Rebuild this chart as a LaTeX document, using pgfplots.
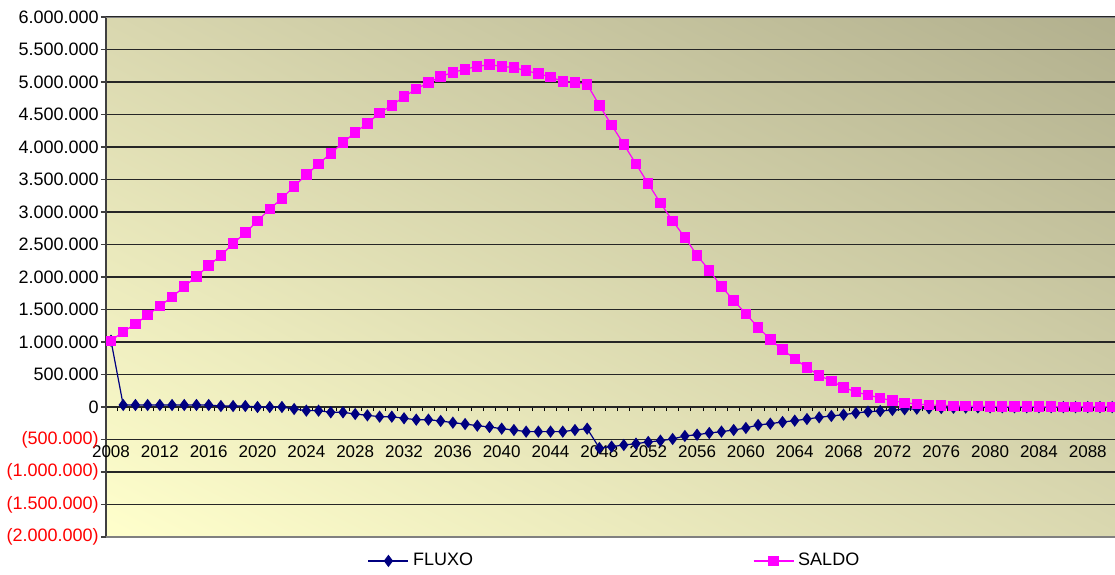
\documentclass[border=0pt]{standalone}
\usepackage{pgfplots}
\pgfplotsset{compat=1.18}
\usepackage{pgfplotstable}
\usetikzlibrary{shadings}
\usepackage{fontspec}
\setmainfont{Liberation Sans}
\definecolor{fluxo}{HTML}{000080}
\definecolor{saldo}{HTML}{FF00FF}
\definecolor{bgll}{HTML}{FFFFCC}
\definecolor{bgul}{HTML}{D9D7AF}
\definecolor{bgur}{HTML}{B2B08E}
\definecolor{bglr}{HTML}{DAD8B0}

\pgfplotstableread{
year fluxo saldo
2008 1020000 1020000
2009 31000 1158000
2010 31000 1277000
2011 31000 1415000
2012 31000 1554000
2013 31000 1692000
2014 31000 1851000
2015 31000 2010000
2016 31000 2174000
2017 15000 2333000
2018 15000 2513000
2019 15000 2682000
2020 0 2862000
2021 0 3046000
2022 0 3210000
2023 -31000 3395000
2024 -56000 3574000
2025 -56000 3738000
2026 -82000 3903000
2027 -82000 4067000
2028 -108000 4226000
2029 -128000 4364000
2030 -149000 4523000
2031 -149000 4641000
2032 -174000 4774000
2033 -195000 4892000
2034 -195000 4990000
2035 -215000 5082000
2036 -241000 5149000
2037 -262000 5195000
2038 -287000 5241000
2039 -308000 5267000
2040 -333000 5241000
2041 -354000 5221000
2042 -379000 5174000
2043 -379000 5128000
2044 -379000 5077000
2045 -379000 5010000
2046 -354000 4990000
2047 -333000 4964000
2048 -631000 4641000
2049 -610000 4338000
2050 -585000 4041000
2051 -564000 3738000
2052 -538000 3436000
2053 -518000 3138000
2054 -492000 2862000
2055 -446000 2610000
2056 -426000 2333000
2057 -400000 2103000
2058 -379000 1851000
2059 -354000 1641000
2060 -323000 1431000
2061 -277000 1226000
2062 -256000 1041000
2063 -231000 882000
2064 -210000 743000
2065 -185000 605000
2066 -159000 487000
2067 -138000 400000
2068 -118000 303000
2069 -92000 231000
2070 -72000 185000
2071 -62000 138000
2072 -46000 97000
2073 -35000 66000
2074 -26000 46000
2075 -20000 31000
2076 -15000 26000
2077 -12000 18000
2078 -9000 14000
2079 -7000 11000
2080 -5000 9000
2081 -4000 8000
2082 -4000 7000
2083 -3000 6000
2084 -3000 5000
2085 -2000 5000
2086 -2000 4000
2087 -2000 4000
2088 -1000 3000
2089 -1000 3000
2090 -1000 3000
}\datatable

\begin{document}
\begin{tikzpicture}
\begin{axis}[
  name=main,
  at={(0,0)}, anchor=south west,
  scale only axis,
  width=504.5pt, height=260pt,
  xmin=2007.59, xmax=2090.23,
  ymin=-2000000, ymax=6000000,
  scaled x ticks=false, scaled y ticks=false,
  axis x line=middle,
  axis y line=left,
  x axis line style={black!85, line width=0.6pt, -},
  y axis line style={black!75, line width=1pt, -},
  axis background/.style={lower left=bgll, upper left=bgul, upper right=bgur, lower right=bglr},
  xtick={2008,2012,...,2088},
  xticklabels={2008,2012,2016,2020,2024,2028,2032,2036,2040,2044,2048,2052,2056,2060,2064,2068,2072,2076,2080,2084,2088},
  minor xtick={2008.5,2009.5,...,2090.5},
  every major x tick/.append style={draw=none},
  every minor x tick/.append style={black, line width=0.5pt},
  minor tick length=2pt,
  xtick align=outside,
  xticklabel style={font=\fontsize{8.5}{10}\selectfont, yshift=-15.5pt, inner sep=1pt},
  ytick={-2000000,-1500000,...,6000000},
  yticklabels={\textcolor{red}{(2.000.000)},\textcolor{red}{(1.500.000)},\textcolor{red}{(1.000.000)},\textcolor{red}{(500.000)},0,500.000,1.000.000,1.500.000,2.000.000,2.500.000,3.000.000,3.500.000,4.000.000,4.500.000,5.000.000,5.500.000,6.000.000},
  ytick align=outside,
  major tick length=2.5pt,
  every major y tick/.append style={black!75, line width=0.6pt},
  yticklabel style={font=\fontsize{9}{11}\selectfont, inner sep=1pt},
  ymajorgrids,
  major grid style={black!85, line width=0.6pt},
  legend columns=2,
  legend style={at={(0.505,-0.046)}, anchor=center, draw=none, fill=none,
    font=\fontsize{9}{11}\selectfont,
    /tikz/every even column/.append style={column sep=138pt}},
  legend image code/.code={\draw[mark repeat=2,mark phase=2,#1] plot coordinates {(0pt,0pt) (10pt,0pt) (20pt,0pt)};},
]
\addplot[fluxo, line width=0.6pt, mark=diamond*, mark size=2.6pt, mark options={fill=fluxo, draw=fluxo}] table[x=year, y=fluxo] {\datatable};
\addlegendentry{FLUXO}
\addplot[saldo, line width=0.6pt, mark=square*, mark size=2.3pt, mark options={fill=saldo, draw=saldo}] table[x=year, y=saldo] {\datatable};
\addlegendentry{SALDO}
\draw[black!50, line width=0.8pt] (rel axis cs:0,1) -- (rel axis cs:1,1);
\draw[black!50, line width=0.8pt] (rel axis cs:0,0) -- (rel axis cs:1,0);
\end{axis}
\pgfresetboundingbox
\path[use as bounding box] (-53pt,-18.5pt) rectangle (504.5pt,268.5pt);
\end{tikzpicture}
\end{document}
